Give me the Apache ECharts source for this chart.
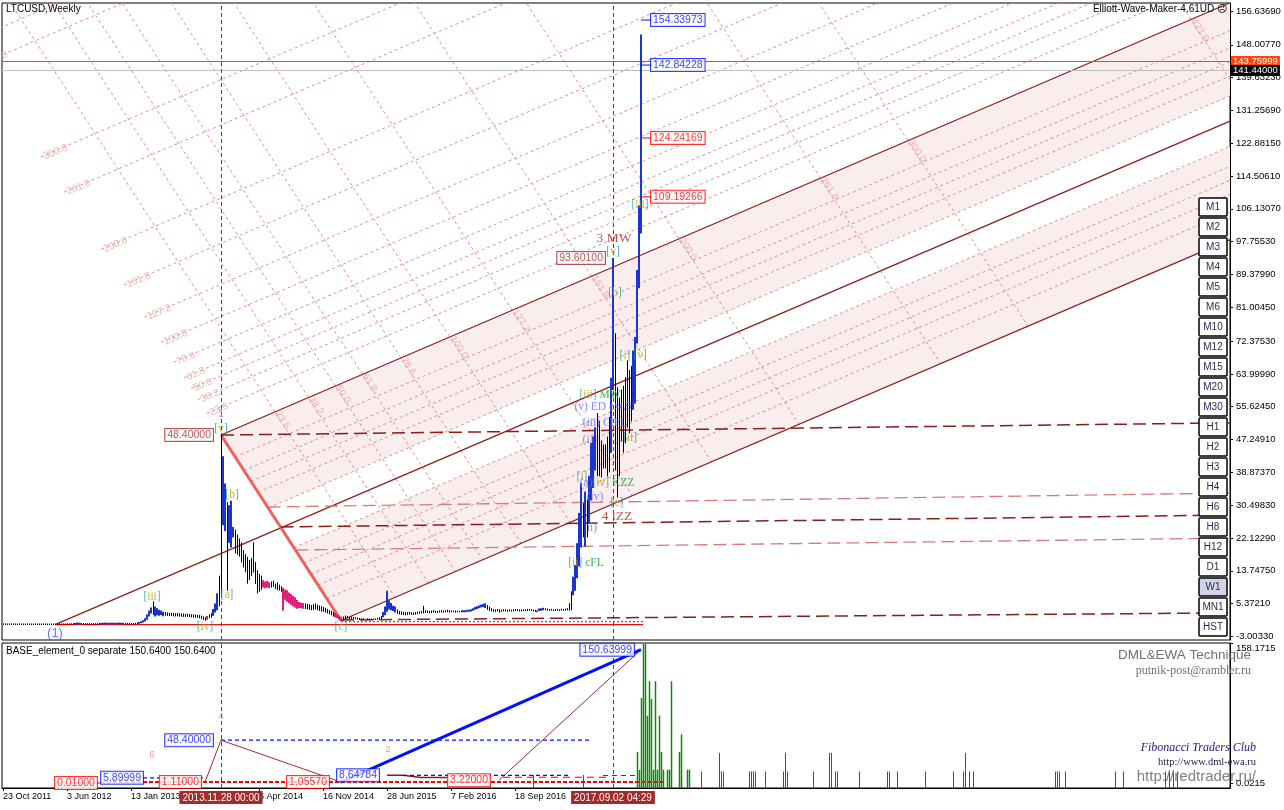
<!DOCTYPE html>
<html>
<head>
<meta charset="utf-8">
<title>LTCUSD Weekly</title>
<script src="https://cdn.jsdelivr.net/npm/echarts@6.0.0/dist/echarts.min.js"></script>
<style>
html,body{margin:0;padding:0;background:#fff;}
#chart{width:1284px;height:810px;}
</style>
</head>
<body>
<div id="chart"></div>
<script>
// ================= DATA =================
// x = week index, week 0 = bar of 23 Oct 2011 (one bar per week)
const xTickWeeks  = [0, 32, 64, 128, 160, 192, 224, 256];
const xTickLabels = ['23 Oct 2011','3 Jun 2012','13 Jan 2013','6 Apr 2014','16 Nov 2014','28 Jun 2015','7 Feb 2016','18 Sep 2016'];
const priceTicks = [-3.0033,5.3721,13.7475,22.1229,30.4983,38.8737,47.2491,55.6245,63.9999,72.3753,81.0045,89.3799,97.7553,106.1307,114.5061,122.8815,131.2569,139.6323,148.0077,156.6369];
const lowerTicks = [0.0215, 158.1715];

const barHigh = [
0.22,0.20,0.18,0.16,0.15,0.14,0.12,0.12,0.10,0.10,
0.09,0.09,0.10,0.09,0.08,0.08,0.08,0.07,0.07,0.07,
0.07,0.06,0.06,0.06,0.05,0.05,0.05,0.06,0.07,0.08,
0.09,0.10,0.12,0.14,0.18,0.22,0.40,0.55,0.45,0.38,
0.30,0.26,0.24,0.22,0.20,0.20,0.22,0.24,0.26,0.32,
0.45,0.50,0.48,0.46,0.44,0.42,0.45,0.48,0.50,0.46,
0.40,0.36,0.34,0.33,0.32,0.34,0.40,0.50,0.65,0.85,
1.10,1.60,2.60,3.60,4.40,5.90,4.60,4.20,3.80,3.60,
3.30,3.20,3.10,3.00,3.00,2.95,2.90,3.00,2.90,2.85,
2.80,2.75,2.80,2.70,2.65,2.60,2.55,2.50,2.45,2.30,
2.10,1.90,2.20,2.60,2.90,4.00,5.40,8.00,12.50,48.40,
43.00,36.00,31.30,30.50,31.60,24.90,24.20,23.00,22.00,21.00,
19.00,18.00,17.30,16.50,17.00,21.00,16.00,13.90,13.00,12.50,
11.30,11.00,11.20,10.80,11.00,11.20,10.50,10.80,10.20,9.80,
9.40,9.00,8.80,8.20,7.80,7.40,7.00,6.30,5.80,5.60,
5.50,5.40,5.30,5.20,5.00,5.20,5.40,5.10,4.90,4.70,
4.50,4.30,4.00,3.70,3.50,3.30,3.00,2.60,2.30,2.00,
2.10,2.30,2.20,2.00,2.10,2.00,1.90,1.80,1.70,1.60,
1.60,1.50,1.60,1.50,1.50,1.50,1.60,1.70,1.90,2.20,
3.20,4.60,8.65,6.20,5.50,4.80,4.60,3.90,3.50,3.40,
3.30,3.20,3.20,3.30,3.20,3.10,3.20,3.30,3.40,3.50,
4.80,3.70,3.60,3.50,3.60,3.70,3.60,3.50,3.60,3.70,
3.60,3.70,3.80,3.70,3.60,3.50,3.60,3.50,3.50,3.60,
3.70,3.70,3.80,3.80,3.90,4.20,4.50,4.70,4.90,5.10,
5.30,5.45,5.00,4.60,4.20,4.00,3.90,4.00,3.90,3.80,
3.90,3.90,3.80,3.90,3.80,3.90,4.00,3.90,3.90,3.80,
3.90,3.90,4.00,4.00,3.90,3.80,3.80,3.70,4.10,4.20,
4.30,4.20,4.10,4.00,4.00,3.90,3.90,4.00,3.90,4.00,
4.00,4.10,4.20,5.50,8.50,12.20,15.20,20.80,28.50,36.10,
31.00,34.00,32.00,38.00,46.40,48.00,50.40,54.00,52.00,47.00,
46.00,46.00,48.00,53.00,63.00,93.60,74.40,60.60,58.00,60.00,
61.00,63.20,67.50,65.00,66.00,70.00,73.40,90.50,107.00,150.64];

const barLow = [
0.08,0.07,0.06,0.06,0.05,0.05,0.05,0.04,0.04,0.04,
0.04,0.04,0.04,0.03,0.03,0.03,0.03,0.03,0.03,0.03,
0.03,0.03,0.02,0.02,0.02,0.02,0.01,0.02,0.03,0.03,
0.04,0.05,0.06,0.07,0.09,0.12,0.18,0.24,0.20,0.18,
0.15,0.13,0.12,0.11,0.10,0.10,0.11,0.12,0.14,0.16,
0.22,0.26,0.25,0.24,0.22,0.21,0.22,0.24,0.26,0.24,
0.22,0.20,0.19,0.18,0.18,0.19,0.22,0.28,0.38,0.50,
0.70,0.95,1.40,2.20,3.00,2.60,2.20,2.50,2.40,2.60,
2.30,2.40,2.35,2.30,2.30,2.25,2.20,2.25,2.20,2.15,
2.10,2.10,2.15,2.05,2.00,1.95,1.90,1.85,1.75,1.60,
1.30,1.11,1.40,1.80,1.90,2.40,3.20,3.80,4.80,8.00,
25.50,24.00,8.80,21.00,19.80,22.40,18.30,18.00,17.50,16.00,
14.70,13.50,10.60,11.50,12.50,13.40,10.50,8.10,8.50,9.00,
9.60,9.40,9.60,9.50,9.60,9.80,9.20,8.90,8.80,8.50,
3.70,6.50,6.00,5.60,5.20,4.80,4.50,4.20,4.40,4.30,
4.20,4.10,4.00,3.90,3.80,3.90,4.00,3.80,3.60,3.50,
3.40,3.20,3.00,2.80,2.50,2.20,2.00,1.80,1.50,1.0557,
1.20,1.60,1.70,1.50,1.60,1.60,1.50,1.40,1.30,1.20,
1.30,1.20,1.30,1.30,1.30,1.30,1.30,1.40,1.50,1.60,
2.00,2.50,3.40,4.00,3.80,3.60,3.20,2.90,2.70,2.60,
2.60,2.50,2.60,2.70,2.60,2.60,2.70,2.80,2.90,3.00,
3.00,3.10,3.10,3.00,3.10,3.20,3.10,3.10,3.20,3.20,
3.20,3.30,3.30,3.20,3.30,3.30,3.20,3.30,3.25,3.30,
3.30,3.30,3.40,3.40,3.50,3.70,3.90,4.10,4.30,4.50,
4.60,4.40,3.90,3.60,3.50,3.40,3.40,3.50,3.22,3.40,
3.50,3.50,3.40,3.50,3.50,3.50,3.60,3.60,3.50,3.50,
3.60,3.60,3.60,3.70,3.60,3.50,3.40,3.30,3.60,3.70,
3.80,3.80,3.70,3.70,3.70,3.60,3.60,3.70,3.60,3.70,
3.70,3.70,3.80,3.70,3.80,7.60,8.80,12.00,15.00,19.80,
22.40,20.00,22.40,26.00,31.80,35.00,39.50,38.00,38.00,37.70,
40.00,40.00,38.00,39.00,44.00,60.00,39.50,32.60,38.00,47.00,
44.00,46.40,50.40,49.00,52.00,55.00,56.60,71.90,86.00,100.00];

// bar colour class runs: k = black, b = blue, p = pink
const toneRuns = [['k',36],['b',4],['k',9],['b',12],['k',7],['b',7],['k',1],['b',5],['k',21],['p',1],['k',2],['b',3],['k',2],['b',2],['k',1],['b',3],['k',14],['p',4],['k',6],['p',11],['k',15],['p',4],['k',11],['p',1],['k',8],['b',7],['k',33],['b',12],['k',25],['p',1],['b',3],['k',14],['b',5],['k',1],['b',1],['k',1],['b',4],['k',7],['b',2],['k',9],['b',5]];

// Andrews pitchfork anchors: (1), [v], [c]
const pfWeeks  = [26, 109, 169];
const pfPrices = [0.01, 48.4, 1.0557];
const fibAbove  = [0.236,0.382,0.5,0.618,0.786,1,1.272,1.618,2,2.618,3,4,4.236];
const fibInside = [0.236,0.382,0.5,0.618,0.786];
const bandDepth = 0.786;
const timeFibLevels = [0.236,0.382,0.5,0.618,0.786,1,1.272,1.618,2,2.618,3,4.236];
const timeFibUnitWeeks = 114.5;

// long-dash level lines [start],[end] in (week, price)
const levelStart = [[109,48.4],[132.3,30.03],[138.8,24.92],[146.2,19.05],[169,1.2]];
const levelEnd   = [[613.5,51.5],[613.5,33.6],[613.5,27.98],[613.5,22.11],[613.5,3.0]];
const levelKind  = ['dark','light','dark','light','dark'];

const currentPrices = [143.75999, 141.44];
const vLineWeeks  = [109, 305];
const vLineLabels = ['2013.11.28 00:00','2017.09.02 04:29'];

const targetPrices = [154.33973, 142.84228, 124.24169, 109.19266];
const targetKinds  = ['blue','blue','red','red'];
const pivotWeeks  = [109, 305];
const pivotPrices = [48.4, 93.601];

const waveText  = ['[v]','1','[iii]','[iv]','(1)','[a]','[b]','[c]','3 MW','[v]','[b]','[i]','[v]','[iii] MW','(v) ED ext.5','(iii) CtFL','(i)','[i]','(a)[iv] KZZ','(iv)','ii)','[c]','4 iZZ','[ii] cFL','[ii]','[iii]'];
const waveWeek  = [109,109,74.5,101,26,112,114.5,169,305.5,305,306,311,318.5,298.5,300,301,292.5,289.5,302,296,294.5,307,307,291.5,313.5,318.5];
const wavePrice = [49.9,53.6,7.05,-0.6,-2.2,7.6,33.1,-0.6,98.7,95.1,84.6,68.5,68.8,58.6,55.5,51.5,47.1,37.7,36.1,32.6,24.7,31.1,27.7,15.7,47.6,107.1];

// lower panel
const lowerBoxWeeks  = [26,70,101,109,169,192,248,319];
const lowerBoxValues = [0.01,5.89999,1.11,48.4,1.0557,8.64784,3.22,150.63999];
const lowerBoxKinds  = ['red','blue','red','blue','red','blue','red','blue'];
const zigWeeks  = [101,109,169];
const zigValues = [1.11,48.4,1.0557];
const stepWeeks  = [192,200,209,222];
const stepValues = [8.65,8.65,6.2,6.2];
const swingWeeks  = [248,319];
const swingValues = [3.22,150.64];
const greenWeeks = [317,318,319,320,321,322,323,324,325,326,327,328,329,330,332,333,334,338,339,342,343];
const greenVals  = [35,15,96,157,157,76,115,95,15,115,15,76,35,15,15,15,115,35,55,15,15];
const redWeeks = [243,265,290,339,349,358,359,360,373,374,375,376,381,390,391,392,405,413,414,416,417,428,442,443,447,461,475,480,481,483,485,526,527,528,531,556,560,581,583,585,587];
const redVals  = [9,9,9,13,13,34,13,13,13,13,13,13,13,13,34,13,13,34,34,13,13,13,13,13,13,13,13,13,34,13,13,13,13,13,13,13,13,13,13,13,13];
const noteText = ['6','4','2'];
const noteWeek = [74.5,109,192.5];
const noteVal  = [31.7,74.7,37.4];

const tfButtons = ['M1','M2','M3','M4','M5','M6','M10','M12','M15','M20','M30','H1','H2','H3','H4','H6','H8','H12','D1','W1','MN1','HST'];

// ================= BUILD =================
const chart = echarts.init(document.getElementById('chart'), null, {renderer:'canvas'});
const X_MIN = -0.5, X_MAX = 613.5;
const series = [];
const toneArr = [];
toneRuns.forEach(r => { for (let i = 0; i < r[1]; i++) toneArr.push(r[0]); });
const toneCode = {k:0, b:1, p:2};

function addLine(pts, color, width, type, g, z, extra) {
  series.push(Object.assign({type:'line', xAxisIndex:g||0, yAxisIndex:g||0, data:pts, symbol:'none',
    silent:true, animation:false, clip:true, z:z||3,
    lineStyle:{color:color, width:width, type:type||'solid'}}, extra||{}));
}

// pitchfork geometry
const [pw0,pw1,pw2] = pfWeeks, [pp0,pp1,pp2] = pfPrices;
const slope = ((pp1+pp2)/2 - pp0) / ((pw1+pw2)/2 - pw0);
const L1 = w => pp1 + slope*(w - pw1);
const half = L1(pw1) - (pp0 + slope*(pw1 - pw0));
const mBack = (pp2 - pp1) / (pw2 - pw1);
const sm = slope - mBack;
const bd = bandDepth * half;
function offsetLine(D) { const ws = pw1 - D/sm; return [[ws, L1(ws)+D],[X_MAX, L1(X_MAX)+D]]; }

// pink bands
const bandPolys = [
  [[pw1,pp1],[X_MAX,L1(X_MAX)],[X_MAX,L1(X_MAX)-bd],[pw1+bd/sm, L1(pw1+bd/sm)-bd]],
  [[pw2-bd/sm, L1(pw2-bd/sm)-2*half+bd],[X_MAX,L1(X_MAX)-2*half+bd],[X_MAX,L1(X_MAX)-2*half],[pw2,pp2]]
];
series.push({type:'custom', xAxisIndex:0, yAxisIndex:0, z:1, silent:true, animation:false, clip:true,
  data: bandPolys.map((p,i)=>[i,0]),
  renderItem:(params, api)=>({type:'polygon',
    shape:{points: bandPolys[params.dataIndex].map(pt=>api.coord(pt))},
    style:{fill:'#faeded'}})
});

const fibColor = '#df8f8f';
// parallel fib lines above upper tine
const upLabels = [];
fibAbove.forEach(k => {
  const seg = offsetLine(k*half);
  addLine(seg, fibColor, 1, [3,3], 0, 2);
  upLabels.push([seg[0][0], seg[0][1], (k*100).toFixed(1)]);
});
// parallel lines inside the channel
fibInside.forEach(k => {
  addLine(offsetLine(-k*half), fibColor, 1, [3,3], 0, 2);
  addLine(offsetLine(-2*half + k*half), fibColor, 1, [3,3], 0, 2);
});
// time fib (down sloping) lines
const downLabels = [];
timeFibLevels.forEach(k => {
  const wa = pw1 + k*timeFibUnitWeeks, pa = L1(wa);
  const wb = wa + 2*half/sm, wc = wa - 260;
  addLine([[wc, pa + mBack*(wc-wa)],[wb, pa + mBack*(wb-wa)]], fibColor, 1, [3,3], 0, 2);
  downLabels.push([wa, pa, (k*100).toFixed(1)]);
});
series.push({type:'scatter', xAxisIndex:0, yAxisIndex:0, symbolSize:0, silent:true, animation:false, clip:false, z:4,
  data: upLabels, label:{show:true, position:'right', distance:3, rotate:23, color:'#e8a4a4', fontSize:10, fontFamily:'Liberation Sans', formatter:p=>p.value[2]}});
series.push({type:'scatter', xAxisIndex:0, yAxisIndex:0, symbolSize:0, silent:true, animation:false, clip:false, z:4,
  data: downLabels, label:{show:true, position:'right', distance:2, rotate:-57, color:'#e8a4a4', fontSize:10, fontFamily:'Liberation Sans', formatter:p=>p.value[2]}});

// pitchfork tines
const tineColor = '#8b1c1c';
addLine([[pw1,pp1],[X_MAX,L1(X_MAX)]], tineColor, 1.2, 'solid', 0, 3);
addLine([[pw0,pp0],[X_MAX,L1(X_MAX)-half]], tineColor, 1.2, 'solid', 0, 3);
addLine([[pw2,pp2],[X_MAX,L1(X_MAX)-2*half]], tineColor, 1.2, 'solid', 0, 3);
// thick handle line [v] -> [c]
addLine([[pw1,pp1],[pw2,pp2]], '#f0605a', 3, 'solid', 0, 3);

// level lines
levelStart.forEach((s,i)=>{
  const dark = levelKind[i]==='dark';
  addLine([s, levelEnd[i]], dark ? '#8b1c1c' : '#d97a7a', dark ? 1.5 : 1.3, [13,6], 0, 3);
});
addLine([[169,0.75],[320,0.75]], '#9b2020', 1, [2,2], 0, 3);
addLine([[pw0,0.01],[320,0.01]], '#e01010', 1.3, 'solid', 0, 3);

// current price lines + axis labels
series.push({type:'line', xAxisIndex:0, yAxisIndex:0, data:[], silent:true, animation:false, z:6,
  markLine:{symbol:'none', silent:true, animation:false, data:[
    {yAxis:currentPrices[0], lineStyle:{color:'#ff4500', type:'solid', width:1},
     label:{show:true, position:'end', distance:1, formatter:currentPrices[0].toFixed(5), backgroundColor:'#ff4500', color:'#fff', padding:[1,2,0,2], fontSize:9.5, fontFamily:'Liberation Sans'}},
    {yAxis:currentPrices[1], lineStyle:{color:'#c0c0c0', type:'solid', width:1},
     label:{show:true, position:'end', distance:1, formatter:currentPrices[1].toFixed(5), backgroundColor:'#000', color:'#fff', padding:[1,2,0,2], fontSize:9.5, fontFamily:'Liberation Sans'}}
  ]}});

// vertical dashed lines
series.push({type:'line', xAxisIndex:0, yAxisIndex:0, data:[], silent:true, animation:false, z:6,
  markLine:{symbol:'none', silent:true, animation:false, label:{show:false},
    lineStyle:{color:'#a02828', type:[4,3], width:1},
    data: vLineWeeks.map(w=>({xAxis:w}))}});
series.push({type:'line', xAxisIndex:1, yAxisIndex:1, data:[], silent:true, animation:false, z:6,
  markLine:{symbol:'none', silent:true, animation:false,
    lineStyle:{color:'#a02828', type:[4,3], width:1},
    data: vLineWeeks.map((w,i)=>({xAxis:w, label:{show:true, position:'start', distance:3, formatter:vLineLabels[i],
      backgroundColor:'#a52a2a', color:'#fff', padding:[2,3,1,3], fontSize:10, fontFamily:'Liberation Sans'}}))}});

// price bars
series.push({type:'custom', xAxisIndex:0, yAxisIndex:0, z:5, silent:true, animation:false, clip:true,
  data: barHigh.map((h,i)=>[i, barLow[i], h, toneCode[toneArr[i]]]),
  renderItem:(params, api)=>{
    const w = api.value(0), lo = api.value(1), hi = api.value(2), t = api.value(3);
    const a = api.coord([w,lo]), b = api.coord([w,hi]);
    const col = ['#000000','#1a35d0','#e0207a'][t];
    const x = Math.round(a[0]) + (t===0 ? 0.5 : 0);
    return {type:'line', shape:{x1:x, y1:a[1]+0.5, x2:x, y2:Math.min(b[1], a[1]-1)},
      style:{stroke:col, lineWidth: t===0 ? 1 : 2}};
  }});

// target boxes at the last bar
const boxFont = {fontFamily:'Liberation Sans', fontSize:10.5, padding:[1,2,0,2], borderWidth:1, backgroundColor:'#ffffff'};
const kindColor = {blue:'#0010ff', red:'#ff0000', dark:'#a52a2a'};
targetPrices.forEach((v,i)=>{
  addLine([[319,v],[324.5,v]], kindColor[targetKinds[i]], 1, 'solid', 0, 7, {clip:false});
});
series.push({type:'scatter', xAxisIndex:0, yAxisIndex:0, symbolSize:0, silent:true, animation:false, clip:false, z:9,
  data: targetPrices.map((v,i)=>({value:[319,v], label:Object.assign({show:true, position:'right', distance:10,
    formatter:v.toFixed(5), color:kindColor[targetKinds[i]], borderColor:kindColor[targetKinds[i]]}, boxFont)}))});
series.push({type:'scatter', xAxisIndex:0, yAxisIndex:0, symbolSize:0, silent:true, animation:false, clip:false, z:9,
  data: pivotWeeks.map((w,i)=>({value:[w,pivotPrices[i]], label:Object.assign({show:true, position:'left', distance:8,
    formatter:pivotPrices[i].toFixed(5), color:kindColor.dark, borderColor:kindColor.dark}, boxFont)}))});

// wave labels
function richWave(t) {
  if (t === '1') return '{n|1}';
  if (t === '(1)') return '{one|(1)}';
  if (/^\d /.test(t)) return '{r|' + t + '}';
  const toks = t.match(/(\[[^\]]*\])|(\([^)]*\))|([^\[(]+)/g) || [];
  let out = '', prev = '';
  toks.forEach(tok => {
    if (tok[0] === '[') { out += '{b|[}{t|' + tok.slice(1,-1) + '}{b|]}'; prev = 'sq'; }
    else if (tok[0] === '(') { out += '{c|' + tok + '}'; prev = 'rd'; }
    else { out += (prev === 'sq' ? '{g|' : '{c|') + tok + '}'; }
  });
  return out;
}
series.push({type:'scatter', xAxisIndex:0, yAxisIndex:0, symbolSize:0, silent:true, animation:false, clip:false, z:10,
  data: waveText.map((t,i)=>({value:[waveWeek[i], wavePrice[i]], name:t})),
  label:{show:true, position:'inside', formatter:p=>richWave(p.name), fontFamily:'Liberation Serif', fontSize:11.5,
    rich:{
      b:{color:'#169fa6', fontFamily:'Liberation Serif', fontSize:11.5},
      t:{color:'#b5a300', fontFamily:'Liberation Serif', fontSize:11.5},
      g:{color:'#12a02c', fontFamily:'Liberation Serif', fontSize:11.5},
      c:{color:'#6b6bff', fontFamily:'Liberation Serif', fontSize:11.5},
      r:{color:'#b02a2a', fontFamily:'Liberation Serif', fontSize:13.5},
      n:{color:'#a070c8', fontFamily:'Liberation Sans', fontSize:10},
      one:{color:'#4b4bff', fontFamily:'Liberation Sans', fontSize:13}
    }}});

// ---------- lower panel ----------
addLine(zigWeeks.map((w,i)=>[w,zigValues[i]]), '#a52a2a', 1, 'solid', 1, 3);
addLine(stepWeeks.map((w,i)=>[w,stepValues[i]]), '#8b1c1c', 1.5, 'solid', 1, 3);
addLine(swingWeeks.map((w,i)=>[w,swingValues[i]]), '#a52a2a', 1, 'solid', 1, 3);
addLine([[109,48.4],[294,48.4]], '#0010ff', 1.2, [4,3], 1, 3);
addLine([[70,5.9],[101,5.9]], '#0010ff', 1.2, [4,3], 1, 3);
addLine([[200,8.65],[283,8.65]], '#0010ff', 1.2, [4,3], 1, 3);
addLine([[49,0.6],[330,0.6]], '#ff0000', 1.2, [4,2], 1, 3);
addLine([[49,1.6],[330,1.6]], '#ff0000', 1.2, [4,2], 1, 3);
addLine([[26,0.01],[49,0.01]], '#ff0000', 1.2, 'solid', 1, 3);
addLine([[250,6.5],[304,6.5]], '#e00000', 1.2, [7,5], 1, 3);
addLine([[300,8.5],[318,8.5]], '#e00000', 1.2, [5,4], 1, 3);
series.push({type:'line', xAxisIndex:1, yAxisIndex:1, data:[], silent:true, animation:false, z:6,
  markLine:{symbol:['none','arrow'], symbolSize:[0,9], silent:true, animation:false,
    lineStyle:{color:'#0010ff', width:3, type:'solid'}, label:{show:false},
    data:[[{coord:[pfWeeks[2], pfPrices[2]]},{coord:[swingWeeks[1], swingValues[1]]}]]}});
// histogram
function histSeries(weeks, vals, color, lw) {
  series.push({type:'custom', xAxisIndex:1, yAxisIndex:1, z:4, silent:true, animation:false, clip:true,
    data: weeks.map((w,i)=>[w, vals[i]]),
    renderItem:(params, api)=>{
      const top = api.coord([api.value(0), api.value(1)]);
      const bot = api.coord([api.value(0), -5.65]);
      const x = Math.round(top[0]) + 0.5;
      return {type:'line', shape:{x1:x, y1:bot[1], x2:x, y2:top[1]}, style:{stroke:color, lineWidth:lw}};
    }});
}
histSeries(greenWeeks, greenVals, '#0a8a0a', 1.5);
histSeries(redWeeks, redVals, '#b22222', 1);
// lower boxes
const lowerSide = ['right','left','left','left','left','left','left','left'];
const lowerDist = [0,0,4,8,12,8,9,7];
series.push({type:'scatter', xAxisIndex:1, yAxisIndex:1, symbolSize:0, silent:true, animation:false, clip:false, z:9,
  data: lowerBoxWeeks.map((w,i)=>({value:[w, lowerBoxValues[i]], label:Object.assign({show:true, position:lowerSide[i], distance:lowerDist[i],
    formatter:lowerBoxValues[i].toFixed(5), color:kindColor[lowerBoxKinds[i]], borderColor:kindColor[lowerBoxKinds[i]]}, boxFont)}))});
series.push({type:'scatter', xAxisIndex:1, yAxisIndex:1, symbolSize:0, silent:true, animation:false, clip:false, z:9,
  data: noteText.map((t,i)=>({value:[noteWeek[i], noteVal[i]], name:t})),
  label:{show:true, position:'inside', formatter:p=>p.name, color:'#e07a5a', fontSize:9, fontFamily:'Liberation Sans'}});

// ---------- graphics (texts and timeframe buttons) ----------
const graphic = [
  {type:'text', x:6, y:4, z:100, style:{text:'LTCUSD,Weekly', fill:'#000', font:'10px Liberation Sans'}},
  {type:'text', x:1227, y:4, z:100, style:{text:'Elliott-Wave-Maker-4.61UD \u2639', fill:'#000', font:'10px Liberation Sans', align:'right'}},
  {type:'text', x:6, y:646, z:100, style:{text:'BASE_element_0 separate 150.6400 150.6400', fill:'#000', font:'10px Liberation Sans'}},
  {type:'text', x:1251, y:648, z:100, style:{text:'DML&EWA Technique', fill:'#707070', font:'13.5px Liberation Sans', align:'right'}},
  {type:'text', x:1251, y:665, z:100, style:{text:'putnik-post@rambler.ru', fill:'#707070', font:'12px Liberation Serif', align:'right'}},
  {type:'text', x:1256, y:742, z:100, style:{text:'Fibonacci Traders Club', fill:'#1c1c80', font:'italic 12px Liberation Serif', align:'right'}},
  {type:'text', x:1256, y:757, z:100, style:{text:'http://www.dml-ewa.ru', fill:'#202050', font:'10.5px Liberation Serif', align:'right'}},
  {type:'text', x:1256, y:769, z:100, style:{text:'http://redtrader.ru/', fill:'#808080', font:'15px Liberation Sans', align:'right'}}
];
tfButtons.forEach((t,i)=>{
  graphic.push({type:'rect', x:1199, y:198 + i*20, z:100, zlevel:1,
    shape:{x:0, y:0, width:28, height:18, r:1},
    style:{fill: t==='W1' ? '#d3d3e8' : '#ffffff', stroke:'#000', lineWidth:1.5}});
  graphic.push({type:'text', x:1213, y:207.5 + i*20, z:101, zlevel:1,
    style:{text:t, align:'center', verticalAlign:'middle', fill:'#2a2a55', font:'10px Liberation Sans'}});
});

const option = {
  animation:false,
  backgroundColor:'#ffffff',
  textStyle:{fontFamily:'Liberation Sans'},
  grid:[
    {left:2, top:3, right:54, height:637, show:true, borderColor:'#000', borderWidth:1},
    {left:2, top:643, right:54, height:145, show:true, borderColor:'#000', borderWidth:1}
  ],
  xAxis:[
    {type:'value', gridIndex:0, min:X_MIN, max:X_MAX, show:false},
    {type:'value', gridIndex:1, min:X_MIN, max:X_MAX,
      axisLine:{show:true, onZero:false, lineStyle:{color:'#000'}}, splitLine:{show:false},
      axisTick:{show:true, customValues:xTickWeeks, length:3, lineStyle:{color:'#000'}},
      axisLabel:{customValues:xTickWeeks, formatter:v=>xTickLabels[xTickWeeks.indexOf(Math.round(v))]||'',
        align:'left', color:'#000', fontSize:9, margin:4}}
  ],
  yAxis:[
    {type:'value', gridIndex:0, position:'right', min:-3.92, max:158.68,
      axisLine:{show:true, onZero:false, lineStyle:{color:'#000'}}, splitLine:{show:false},
      axisTick:{show:true, customValues:priceTicks, length:3, lineStyle:{color:'#000'}},
      axisLabel:{customValues:priceTicks, formatter:v=>v.toFixed(5), color:'#000', fontSize:9.5, margin:6}},
    {type:'value', gridIndex:1, position:'right', min:-5.65, max:158.1715,
      axisLine:{show:true, onZero:false, lineStyle:{color:'#000'}}, splitLine:{show:false},
      axisTick:{show:true, customValues:lowerTicks, length:3, lineStyle:{color:'#000'}},
      axisLabel:{customValues:lowerTicks, formatter:v=>v.toFixed(4), color:'#000', fontSize:9.5, margin:6, verticalAlignMaxLabel:'top'}}
  ],
  graphic: graphic,
  series: series
};
chart.setOption(option);
</script>
</body>
</html>
